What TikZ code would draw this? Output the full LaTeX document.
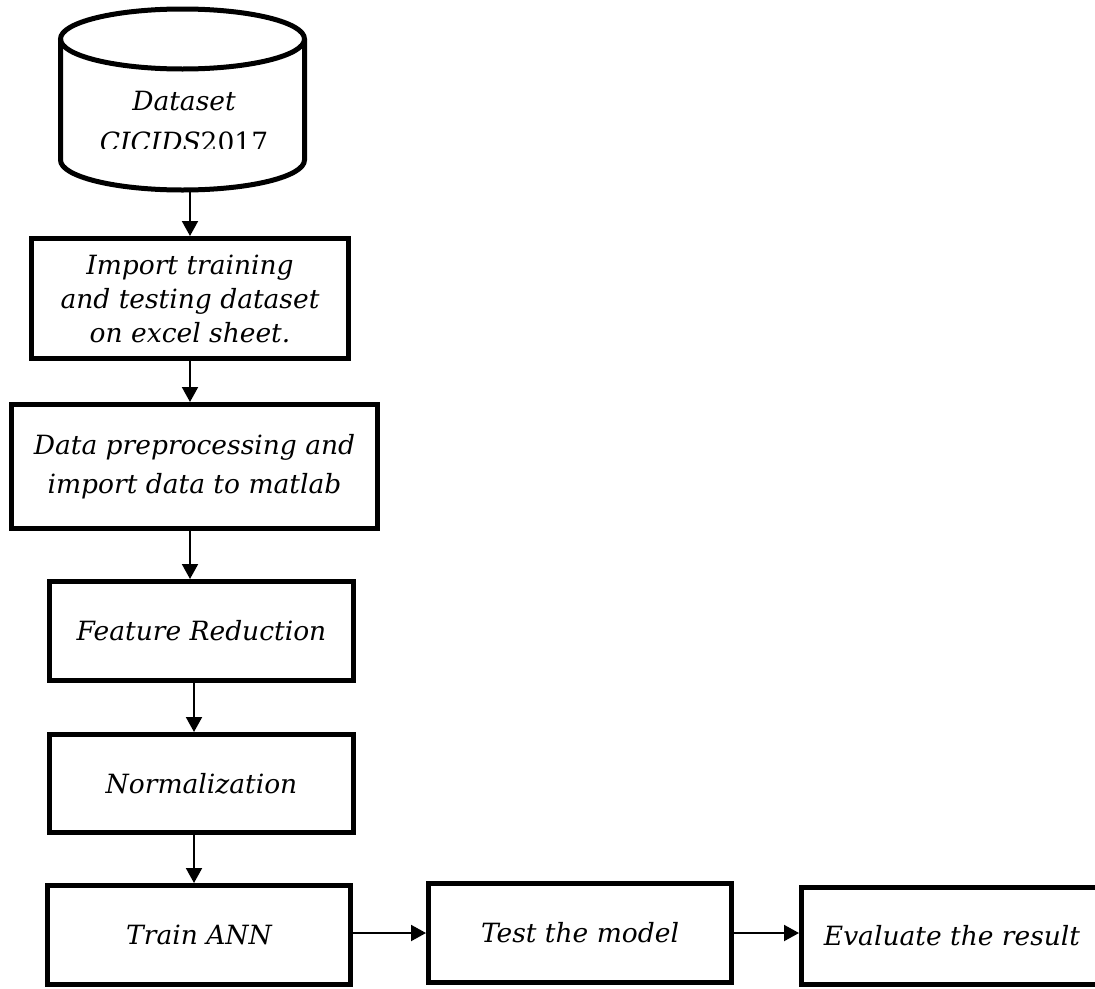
\documentclass[tikz,border=0pt]{standalone}
\usepackage{fontspec}
\setmainfont{DejaVu Serif}
\usetikzlibrary{arrows.meta}
\begin{document}
\begin{tikzpicture}[x=1pt,y=-1pt,
  box/.style={draw=black,line width=5pt,fill=white,inner sep=0pt,align=center,font=\itshape\fontsize{26.5}{34}\selectfont},
  lbl/.style={inner sep=0pt,font=\itshape\fontsize{26.5}{34}\selectfont},
  arr/.style={line width=2pt,-{Triangle[length=15pt,width=16pt]}}]
\useasboundingbox (0,0) rectangle (1095,988);
\clip (0,0) rectangle (1095,988);
% cylinder
\draw[line width=5pt,fill=white] (182.5pt,-39pt) ellipse [x radius=122pt, y radius=30pt];
\draw[line width=5pt] (60.5,39) -- (60.5,160) arc[start angle=180,end angle=360,x radius=122pt,y radius=30pt] -- (304.5,39);
\begin{scope}
\clip (0,0) rectangle (1095,148);
\node[lbl,anchor=base] (ds1) at (184,110) {Dataset};
\node[lbl,anchor=base] (ds2) at (184,151) {CICIDS\textup{2017}};
\end{scope}
\coordinate (cylbot) at (190,190);
% boxes
\node[box,minimum width=317pt,minimum height=120pt] (b1) at (190,298.5) {Import training\\and testing dataset\\on excel sheet.};
\node[box,minimum width=366pt,minimum height=124pt,font=\itshape\fontsize{26.5}{39}\selectfont] (b2) at (194.5,466.5) {Data preprocessing and\\import data to matlab};
\node[box,minimum width=304pt,minimum height=99pt] (b3) at (201.5,631) {Feature Reduction};
\node[box,minimum width=304pt,minimum height=98pt] (b4) at (201.5,783.5) {Normalization};
\node[box,minimum width=303pt,minimum height=99pt] (b5) at (199,935) {Train ANN};
\node[box,minimum width=303pt,minimum height=99pt] (b6) at (580,933) {Test the model};
\node[box,minimum width=301pt,minimum height=97pt] (b7) at (952,936) {Evaluate the result};
% connectors
\coordinate (xa) at (190,0);
\coordinate (xb) at (194,0);
\coordinate (yh) at (0,933);
\draw[arr] (cylbot) -- (b1.north);
\draw[arr] (b1.south) -- (b2.north -| xa);
\draw[arr] (b2.south -| xa) -- (b3.north -| xa);
\draw[arr] (b3.south -| xb) -- (b4.north -| xb);
\draw[arr] (b4.south -| xb) -- (b5.north -| xb);
\draw[arr] (b5.east |- yh) -- (b6.west |- yh);
\draw[arr] (b6.east |- yh) -- (b7.west |- yh);
\end{tikzpicture}
\end{document}
